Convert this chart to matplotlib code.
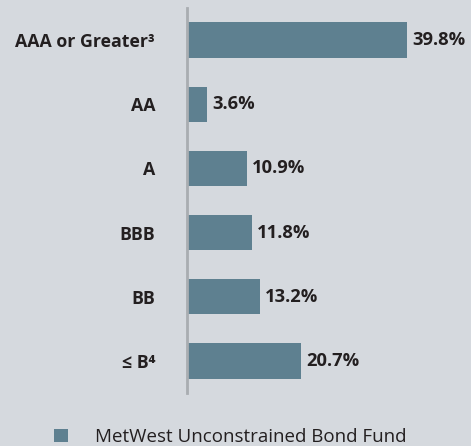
import matplotlib
matplotlib.use("Agg")
import matplotlib.pyplot as plt

plt.rcParams['font.family'] = ['Open Sans', 'DejaVu Sans']

# data
ratings = ['AAA or Greater\u00b3', 'AA', 'A', 'BBB', 'BB', '\u2264 B\u2074']
weights = [39.8, 3.6, 10.9, 11.8, 13.2, 20.7]
series_name = 'MetWest Unconstrained Bond Fund'

bg = '#d5d9de'
bar_col = '#5e8090'
txt_col = '#231f20'

fig = plt.figure(figsize=(4.71, 4.46), dpi=100, facecolor=bg)
ax = fig.add_axes([187 / 471, 53 / 446, 284 / 471, 385 / 446])
ax.set_facecolor(bg)

pos = list(range(len(ratings)))
bars = ax.barh(pos, weights, height=0.55, color=bar_col, label=series_name)
ax.set_ylim(len(ratings) - 0.5, -0.5)
ax.set_xlim(0, 51.4)

for b, v in zip(bars, weights):
    ax.annotate('%.1f%%' % v, (b.get_width(), b.get_y() + b.get_height() / 2),
                xytext=(3.6, 0), textcoords='offset points', va='center', ha='left',
                fontsize=13.2, fontweight='bold', color=txt_col)

ax.set_yticks(pos)
ax.set_yticklabels(ratings, fontsize=12.8, fontweight='bold', color=txt_col)
ax.tick_params(axis='y', length=0, pad=23)
ax.set_xticks([])
for s in ['top', 'right', 'bottom']:
    ax.spines[s].set_visible(False)
ax.spines['left'].set_color('#a9adb1')
ax.spines['left'].set_linewidth(2)

fig.legend(handles=[bars], labels=[series_name], loc='center left',
           bbox_to_anchor=(37 / 471, 1 - 437 / 446), frameon=False,
           fontsize=13.5, handlelength=0.75, handleheight=0.75, handletextpad=1.44,
           labelcolor=txt_col)

fig.savefig('out.png', dpi=100, facecolor=bg)
